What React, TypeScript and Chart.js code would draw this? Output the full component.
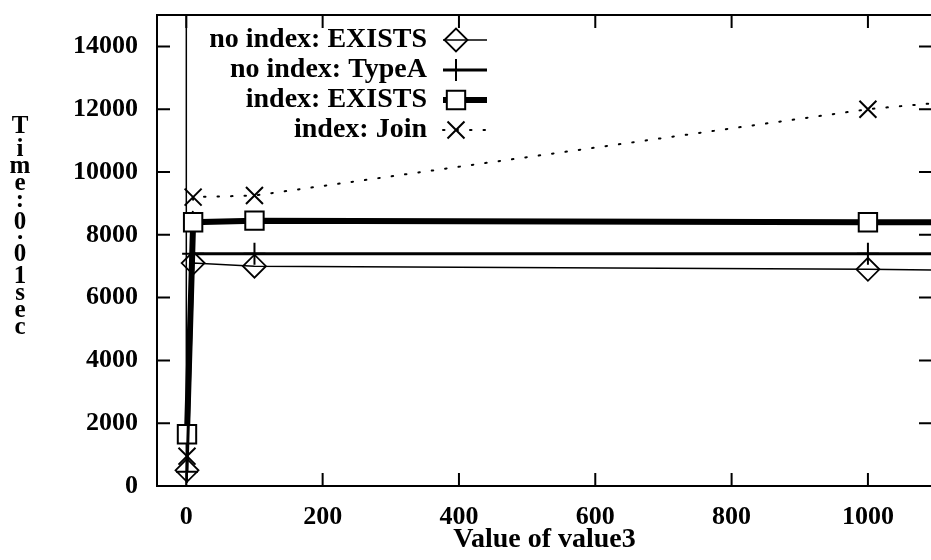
import React, { useEffect, useRef } from 'react';
import { Chart, registerables } from 'chart.js';
import { drawPoint } from 'chart.js/helpers';

Chart.register(...registerables);

// ---- data ----
const xValues = [1, 10, 100, 1000, 2000];
const noIndexExists = [500, 7100, 7000, 6900, 6700];
const noIndexTypeA = [450, 7400, 7400, 7400, 7400];
const indexExists = [1650, 8400, 8450, 8400, 8400];
const indexJoin = [950, 9200, 9250, 12000, 14000];
const seriesLabels = ['no index: EXISTS', 'no index: TypeA', 'index: EXISTS', 'index: Join'];
const xTicks = [0, 200, 400, 600, 800, 1000];
const yTicks = [0, 2000, 4000, 6000, 8000, 10000, 12000, 14000];
const xTitle = 'Value of value3';
const yTitle = 'Time: 0.01sec';

const FONT_FAMILY = '"Liberation Serif", "Times New Roman", serif';
const tickFont = { family: FONT_FAMILY, size: 26, weight: 'bold' as const };
const titleFont = { family: FONT_FAMILY, size: 28, weight: 'bold' as const };

const toPoints = (ys: number[]) => xValues.map((x, i) => ({ x, y: ys[i] }));

const frameAndDecor = {
  id: 'frameAndDecor',
  beforeDatasetsDraw(chart: any) {
    const { ctx, chartArea: a, scales } = chart;
    const x0 = scales.x.getPixelForValue(0);
    ctx.save();
    ctx.strokeStyle = '#000';
    ctx.lineWidth = 1.5;
    ctx.beginPath();
    ctx.moveTo(x0, a.top);
    ctx.lineTo(x0, a.bottom);
    ctx.stroke();
    ctx.restore();
  },
  afterDraw(chart: any) {
    const { ctx, chartArea: a, scales } = chart;
    ctx.save();
    ctx.strokeStyle = '#000';
    ctx.lineWidth = 2;
    ctx.setLineDash([]);
    ctx.strokeRect(a.left, a.top, a.right - a.left, a.bottom - a.top);
    const tl = 13;
    ctx.beginPath();
    for (const v of xTicks) {
      const px = scales.x.getPixelForValue(v);
      ctx.moveTo(px, a.bottom);
      ctx.lineTo(px, a.bottom - tl);
      ctx.moveTo(px, a.top);
      ctx.lineTo(px, a.top + tl);
    }
    for (const v of yTicks) {
      const py = scales.y.getPixelForValue(v);
      ctx.moveTo(a.left, py);
      ctx.lineTo(a.left + tl, py);
      ctx.moveTo(a.right, py);
      ctx.lineTo(a.right - tl, py);
    }
    ctx.stroke();

    // stacked y-axis title
    ctx.fillStyle = '#000';
    ctx.font = `bold 25px ${FONT_FAMILY}`;
    ctx.textAlign = 'center';
    ctx.textBaseline = 'alphabetic';
    let y = 116;
    const gap = 5;
    for (const ch of yTitle) {
      if (ch === ' ') continue;
      const m = ctx.measureText(ch);
      y += m.actualBoundingBoxAscent;
      ctx.fillText(ch, 20, y);
      y += Math.max(m.actualBoundingBoxDescent, 0) + gap;
    }

    // legend
    const rowY0 = 40;
    const rowStep = 30;
    const textRight = 427;
    const sampleL = 443;
    const sampleR = 487;
    const markerX = 456;
    chart.data.datasets.forEach((ds: any, i: number) => {
      const ry = rowY0 + i * rowStep;
      ctx.font = `bold 28px ${FONT_FAMILY}`;
      ctx.textAlign = 'right';
      ctx.textBaseline = 'middle';
      ctx.fillStyle = '#000';
      ctx.fillText(ds.label, textRight, ry);
      ctx.save();
      ctx.strokeStyle = '#000';
      ctx.lineWidth = ds.borderWidth;
      ctx.lineCap = ds.borderCapStyle || 'butt';
      ctx.setLineDash(ds.borderDash || []);
      ctx.beginPath();
      ctx.moveTo(sampleL, ry);
      ctx.lineTo(sampleR, ry);
      ctx.stroke();
      ctx.restore();
      ctx.save();
      ctx.setLineDash([]);
      ctx.strokeStyle = '#000';
      ctx.fillStyle = ds.pointBackgroundColor;
      ctx.lineWidth = ds.pointBorderWidth;
      drawPoint(ctx, { pointStyle: ds.pointStyle, rotation: 0, radius: ds.pointRadius, borderWidth: ds.pointBorderWidth }, markerX, ry);
      ctx.restore();
    });
    ctx.restore();
  },
};

export default function App() {
  const ref = useRef<HTMLCanvasElement>(null);
  useEffect(() => {
    const chart = new Chart(ref.current!, {
      type: 'line',
      data: {
        datasets: [
          {
            label: seriesLabels[0],
            data: toPoints(noIndexExists),
            borderColor: '#000',
            borderWidth: 1.5,
            pointStyle: 'rectRot',
            pointRadius: 11.5,
            pointBorderWidth: 1.8,
            pointBorderColor: '#000',
            pointBackgroundColor: 'rgba(0,0,0,0)',
            tension: 0,
          },
          {
            label: seriesLabels[1],
            data: toPoints(noIndexTypeA),
            borderColor: '#000',
            borderWidth: 3,
            pointStyle: 'cross',
            pointRadius: 11,
            pointBorderWidth: 2,
            pointBorderColor: '#000',
            pointBackgroundColor: 'rgba(0,0,0,0)',
            tension: 0,
          },
          {
            label: seriesLabels[2],
            data: toPoints(indexExists),
            borderColor: '#000',
            borderWidth: 6,
            pointStyle: 'rect',
            pointRadius: 13,
            pointBorderWidth: 2,
            pointBorderColor: '#000',
            pointBackgroundColor: '#fff',
            tension: 0,
          },
          {
            label: seriesLabels[3],
            data: toPoints(indexJoin),
            borderColor: '#000',
            borderWidth: 2,
            borderDash: [1.5, 12],
            borderCapStyle: 'round',
            pointStyle: 'crossRot',
            pointRadius: 12,
            pointBorderWidth: 2,
            pointBorderColor: '#000',
            pointBackgroundColor: 'rgba(0,0,0,0)',
            tension: 0,
          },
        ] as any,
      },
      options: {
        responsive: false,
        animation: false,
        devicePixelRatio: 1,
        layout: { padding: { left: 0, right: 18, top: 8, bottom: 0 } },
        plugins: { legend: { display: false }, tooltip: { enabled: false } },
        scales: {
          x: {
            type: 'linear',
            min: -43,
            max: 1094,
            afterBuildTicks: (s: any) => {
              s.ticks = xTicks.map((v) => ({ value: v }));
            },
            afterFit: (s: any) => {
              s.height = 74;
              s.paddingLeft = 0;
              s.paddingRight = 0;
            },
            grid: { display: false, drawTicks: false },
            border: { display: false },
            ticks: {
              font: tickFont,
              color: '#000',
              padding: 16,
              maxRotation: 0,
              autoSkip: false,
              callback: (v: any) => String(v),
            },
            title: {
              display: true,
              text: xTitle,
              font: titleFont,
              color: '#000',
              padding: { top: 0, bottom: 3 },
            },
          },
          y: {
            type: 'linear',
            min: 0,
            max: 15000,
            afterBuildTicks: (s: any) => {
              s.ticks = yTicks.map((v) => ({ value: v }));
            },
            afterFit: (s: any) => {
              s.width = 157;
              s.paddingTop = 0;
              s.paddingBottom = 0;
            },
            grid: { display: false, drawTicks: false },
            border: { display: false },
            ticks: {
              font: tickFont,
              color: '#000',
              padding: 19,
              autoSkip: false,
              callback: (v: any) => String(v),
            },
          },
        },
      } as any,
      plugins: [frameAndDecor],
    });
    return () => chart.destroy();
  }, []);
  return (
    <div
      style={{
        position: 'fixed',
        left: 0,
        top: 0,
        width: 931,
        height: 560,
        overflow: 'hidden',
        background: '#fff',
      }}
    >
      <canvas ref={ref} width={950} height={560} style={{ display: 'block', width: 950, height: 560 }} />
    </div>
  );
}
